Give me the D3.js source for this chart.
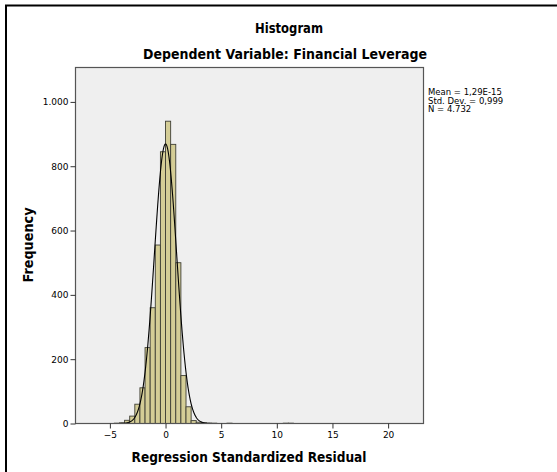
<!DOCTYPE html>
<html>
<head>
<meta charset="utf-8">
<script src="https://cdn.jsdelivr.net/npm/d3@7"></script>
<style>
  html, body { margin: 0; padding: 0; background: #fff; }
  svg { display: block; }
  text { font-family: "DejaVu Sans", "Liberation Sans", sans-serif; fill: #000; }
</style>
</head>
<body>
<script>
// Histogram bins of the regression standardized residuals
const binWidth = 0.46;
const binStarts = [-4.60, -4.14, -3.68, -3.22, -2.76, -2.30, -1.84, -1.38, -0.92, -0.46,
                   0.00, 0.46, 0.92, 1.38, 1.84, 2.30, 2.76, 3.22, 3.68, 4.14,
                   5.52, 10.58, 11.04];
const counts = [1, 2, 10, 23, 60, 111, 236, 360, 555, 845,
                940, 868, 500, 149, 52, 9, 4, 2, 1, 1,
                1, 1, 1];

// Summary statistics shown beside the plot (and used for the normal curve)
const statMean = 1.29e-15;
const statSd = 0.999;
const statN = 4732;
const statLabels = ["Mean = 1,29E-15", "Std. Dev. = 0,999", "N = 4.732"];

// Axis ticks
const xTicks = [-5, 0, 5, 10, 15, 20];
const yTicks = [0, 200, 400, 600, 800, 1000];
const yTickLabels = ["0", "200", "400", "600", "800", "1.000"];

const W = 557, H = 472;
const plot = { left: 75.5, right: 423.5, top: 67.5, bottom: 423.5 };

const svg = d3.select("body").append("svg")
  .attr("width", W).attr("height", H);

// Outer frame (top and left edges)
svg.append("path")
  .attr("d", `M6,${H} V5.5 H${W}`)
  .attr("fill", "none").attr("stroke", "#000").attr("stroke-width", 2);

const x = d3.scaleLinear().domain([-8.09, 23.18]).range([plot.left, plot.right]);
const y = d3.scaleLinear().domain([0, 1107]).range([plot.bottom, plot.top]);

// Plot background
svg.append("rect")
  .attr("x", plot.left).attr("y", plot.top)
  .attr("width", plot.right - plot.left).attr("height", plot.bottom - plot.top)
  .attr("fill", "#efefef");

svg.append("clipPath").attr("id", "plotclip")
  .append("rect")
  .attr("x", plot.left).attr("y", plot.top)
  .attr("width", plot.right - plot.left).attr("height", plot.bottom - plot.top);

const g = svg.append("g").attr("clip-path", "url(#plotclip)");

// Bars
g.selectAll("rect.bar")
  .data(binStarts.map((s, i) => ({ s, c: counts[i] })))
  .join("rect")
  .attr("class", "bar")
  .attr("x", d => x(d.s))
  .attr("width", d => x(d.s + binWidth) - x(d.s))
  .attr("y", d => y(d.c))
  .attr("height", d => y(0) - y(d.c))
  .attr("fill", "#d4cd96")
  .attr("stroke", "#3f3f35")
  .attr("stroke-width", 0.9);

// Fitted normal curve scaled to the histogram
const pdf = v => Math.exp(-0.5 * ((v - statMean) / statSd) ** 2) / (statSd * Math.sqrt(2 * Math.PI));
const curvePts = d3.range(-8.1, 23.2, 0.02).map(v => [v, statN * binWidth * pdf(v)]);
g.append("path")
  .datum(curvePts)
  .attr("d", d3.line().x(d => x(d[0])).y(d => y(d[1])))
  .attr("fill", "none")
  .attr("stroke", "#000")
  .attr("stroke-width", 1.1);

// Plot frame
svg.append("rect")
  .attr("x", plot.left).attr("y", plot.top)
  .attr("width", plot.right - plot.left).attr("height", plot.bottom - plot.top)
  .attr("fill", "none").attr("stroke", "#555").attr("stroke-width", 1.2);

// Y axis
const yAxis = d3.axisLeft(y).tickValues(yTicks)
  .tickFormat((d, i) => yTickLabels[i]).tickSize(5).tickPadding(2);
svg.append("g")
  .attr("transform", `translate(${plot.left},0)`)
  .call(yAxis)
  .call(a => a.select(".domain").remove())
  .call(a => a.selectAll("line").attr("stroke", "#333"))
  .call(a => a.selectAll("text").style("font-size", "9px").style("font-family", "DejaVu Sans"));

// X axis
const xAxis = d3.axisBottom(x).tickValues(xTicks).tickSize(5).tickPadding(3);
svg.append("g")
  .attr("transform", `translate(0,${plot.bottom})`)
  .call(xAxis)
  .call(a => a.select(".domain").remove())
  .call(a => a.selectAll("line").attr("stroke", "#333"))
  .call(a => a.selectAll("text").style("font-size", "9px").style("font-family", "DejaVu Sans"));

// Titles
function boldText(txt, cx, cy, size, len, rotate) {
  const t = svg.append("text")
    .attr("text-anchor", "middle")
    .attr("dominant-baseline", "central")
    .style("font-weight", "bold")
    .style("font-size", size + "px")
    .attr("textLength", len)
    .attr("lengthAdjust", "spacingAndGlyphs")
    .text(txt);
  if (rotate) t.attr("transform", `translate(${cx},${cy}) rotate(-90)`);
  else t.attr("x", cx).attr("y", cy);
  return t;
}
boldText("Histogram", 289, 28, 13.5, 68);
boldText("Dependent Variable: Financial Leverage", 285, 54, 13.5, 284);
boldText("Regression Standardized Residual", 249, 457, 13.5, 235);
boldText("Frequency", 28, 245, 13.5, 75, true);

// Statistics box text
svg.append("g").selectAll("text")
  .data(statLabels)
  .join("text")
  .attr("x", 428)
  .attr("y", (d, i) => 95 + i * 8.7)
  .style("font-size", "8.5px")
  .text(d => d);
</script>
</body>
</html>
